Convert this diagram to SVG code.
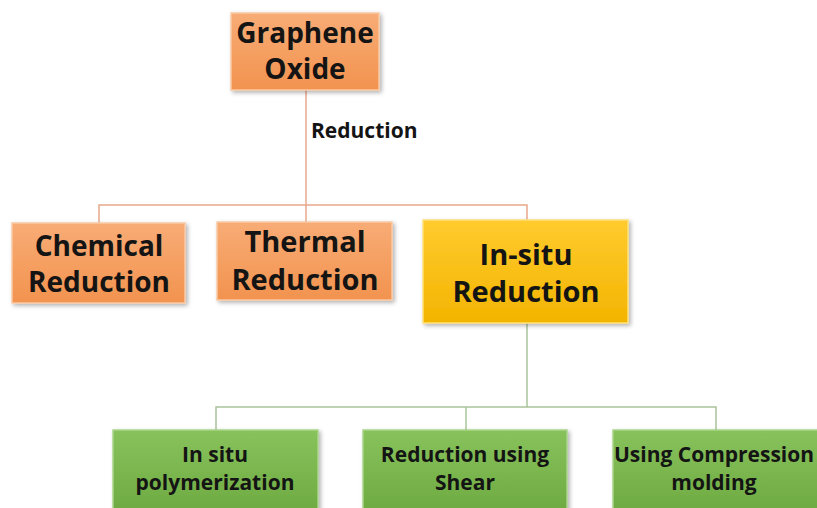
<svg xmlns="http://www.w3.org/2000/svg" width="817" height="508" viewBox="0 0 817 508">
<defs>
<linearGradient id="gOrange" x1="0" y1="0" x2="0" y2="1">
<stop offset="0" stop-color="#F8AC76"/><stop offset="1" stop-color="#F2934F"/>
</linearGradient>
<linearGradient id="gGold" x1="0" y1="0" x2="0" y2="1">
<stop offset="0" stop-color="#FFCB2E"/><stop offset="1" stop-color="#F3B400"/>
</linearGradient>
<linearGradient id="gGreen" x1="0" y1="0" x2="0" y2="1">
<stop offset="0" stop-color="#88C25C"/><stop offset="1" stop-color="#6BA83F"/>
</linearGradient>
<filter id="sh" x="-10%" y="-10%" width="130%" height="130%">
<feDropShadow dx="2" dy="2" stdDeviation="2" flood-color="#000" flood-opacity="0.3"/>
</filter>
</defs>
<style>
.t{font-family:"Open Sans","Liberation Sans",sans-serif;font-weight:bold;fill:#141414;text-anchor:middle}
.or{fill:url(#gOrange);stroke:#F9C9A4;stroke-width:1.5;filter:url(#sh)}
.gd{fill:url(#gGold);stroke:#FFE07A;stroke-width:1.5;filter:url(#sh)}
.gr{fill:url(#gGreen);stroke:#A9D58A;stroke-width:1.5;filter:url(#sh)}
.lo{fill:none;stroke:#E9A88C;stroke-width:1.5}
.lg{fill:none;stroke:#A9C49A;stroke-width:1.5}
</style>
<rect width="817" height="508" fill="#fff"/>
<g id="connectors">
<line class="lo" x1="306" y1="90" x2="306" y2="222"/>
<polyline class="lo" points="99,223 99,205 527,205 527,220"/>
<line class="lg" x1="527" y1="323" x2="527" y2="407"/>
<polyline class="lg" points="216,430 216,407 716,407 716,430"/>
<line class="lg" x1="466" y1="407" x2="466" y2="430"/>
</g>
<text class="t" x="311" y="138" style="text-anchor:start" font-size="21">Reduction</text>
<g id="graphene-oxide">
<rect class="or" x="231" y="13" width="148" height="77"/>
<text class="t" x="305" y="43" font-size="28">Graphene</text>
<text class="t" x="305" y="79" font-size="28">Oxide</text>
</g>
<g id="chemical-reduction">
<rect class="or" x="12" y="223" width="173" height="80"/>
<text class="t" x="99" y="256" font-size="28">Chemical</text>
<text class="t" x="99" y="292" font-size="28">Reduction</text>
</g>
<g id="thermal-reduction">
<rect class="or" x="217" y="222" width="175" height="78"/>
<text class="t" x="305" y="252" font-size="29">Thermal</text>
<text class="t" x="305" y="290" font-size="29">Reduction</text>
</g>
<g id="insitu-reduction">
<rect class="gd" x="423" y="220" width="205" height="103"/>
<text class="t" x="526" y="265" font-size="29">In-situ</text>
<text class="t" x="526" y="302" font-size="29">Reduction</text>
</g>
<g id="insitu-polymerization">
<rect class="gr" x="113" y="430" width="205" height="90"/>
<text class="t" x="215" y="462" font-size="21">In situ</text>
<text class="t" x="215" y="490" font-size="21">polymerization</text>
</g>
<g id="reduction-shear">
<rect class="gr" x="363" y="430" width="204" height="90"/>
<text class="t" x="465" y="462" font-size="21">Reduction using</text>
<text class="t" x="465" y="490" font-size="21">Shear</text>
</g>
<g id="compression-molding">
<rect class="gr" x="613" y="430" width="210" height="90"/>
<text class="t" x="714" y="462" font-size="21">Using Compression</text>
<text class="t" x="714" y="490" font-size="21">molding</text>
</g>
</svg>
